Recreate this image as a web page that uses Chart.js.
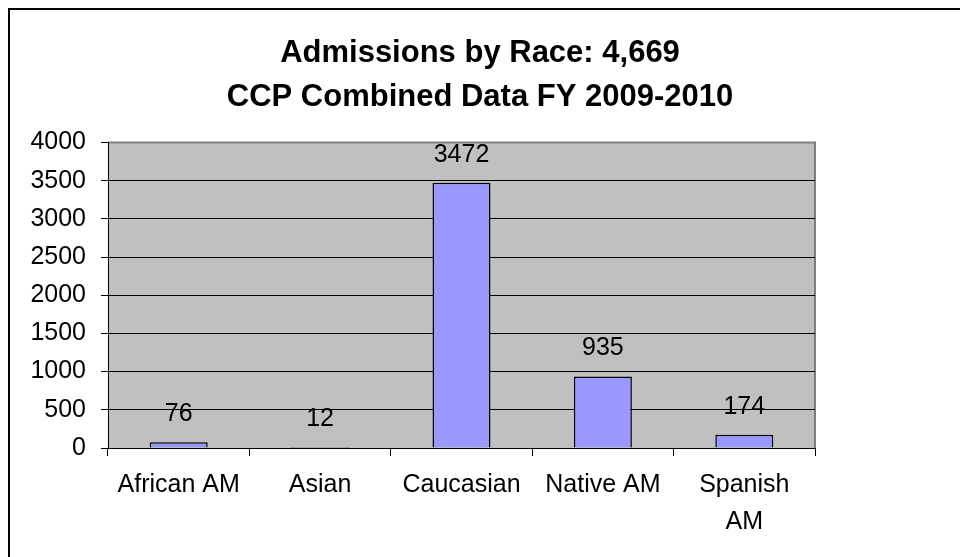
<!DOCTYPE html>
<html>
<head>
<meta charset="utf-8">
<title>Admissions by Race</title>
<script src="https://cdn.jsdelivr.net/npm/chart.js@4"></script>
<style>
    body { margin: 0; background: #fff; }
    canvas { display: block; }
</style>
</head>
<body>
<canvas id="raceChart" width="960" height="557"></canvas>
<script>
// Chart data
const categories = ['African AM', 'Asian', 'Caucasian', 'Native AM', ['Spanish', 'AM']];
const admissions = [76, 12, 3472, 935, 174];
const titleLines = ['Admissions by Race: 4,669', 'CCP Combined Data FY 2009-2010'];
const yMax = 4000;
const yStep = 500;

const FONT = "'Liberation Sans', Arial, sans-serif";

// Frame, grey plot area and its border
const plotBackground = {
    id: 'plotBackground',
    beforeDraw(chart) {
        const { ctx, chartArea } = chart;
        ctx.save();
        ctx.fillStyle = '#ffffff';
        ctx.fillRect(0, 0, chart.width, chart.height);
        ctx.strokeStyle = '#000000';
        ctx.lineWidth = 2;
        ctx.strokeRect(9, 9, chart.width + 20, chart.height + 20);
        ctx.fillStyle = '#c0c0c0';
        ctx.fillRect(chartArea.left, chartArea.top, chartArea.right - chartArea.left, chartArea.bottom - chartArea.top);
        ctx.strokeStyle = '#808080';
        ctx.lineWidth = 2;
        ctx.beginPath();
        ctx.moveTo(chartArea.left, chartArea.top);
        ctx.lineTo(chartArea.right, chartArea.top);
        ctx.lineTo(chartArea.right, chartArea.bottom);
        ctx.stroke();
        ctx.restore();
    }
};

// Value labels above the bars
const valueLabels = {
    id: 'valueLabels',
    afterDatasetsDraw(chart) {
        const { ctx } = chart;
        const meta = chart.getDatasetMeta(0);
        ctx.save();
        ctx.font = '25px ' + FONT;
        ctx.fillStyle = '#000';
        ctx.textAlign = 'center';
        ctx.textBaseline = 'middle';
        meta.data.forEach((bar, i) => {
            ctx.fillText(String(admissions[i]), bar.x, bar.y - 28);
        });
        ctx.restore();
    }
};

const ctx = document.getElementById('raceChart').getContext('2d');
new Chart(ctx, {
    type: 'bar',
    data: {
        labels: categories,
        datasets: [{
            data: admissions,
            backgroundColor: '#9999ff',
            borderColor: '#000000',
            borderWidth: 1.5,
            categoryPercentage: 1,
            barPercentage: 0.41
        }]
    },
    options: {
        responsive: false,
        animation: false,
        devicePixelRatio: 1,
        layout: {
            padding: 0
        },
        plugins: {
            legend: { display: false },
            tooltip: { enabled: false },
            title: {
                display: true,
                text: titleLines,
                color: '#000',
                font: { family: FONT, size: 31, weight: 'bold', lineHeight: 1.41 },
                padding: { top: 32, bottom: 23 }
            }
        },
        scales: {
            x: {
                afterFit(scale) { scale.height = 109; },
                grid: {
                    display: true,
                    offset: true,
                    drawOnChartArea: false,
                    drawTicks: true,
                    tickLength: 8,
                    color: '#000'
                },
                border: { color: '#000', width: 1 },
                ticks: {
                    color: '#000',
                    padding: 11,
                    maxRotation: 0,
                    autoSkip: false,
                    font: { family: FONT, size: 25, lineHeight: 1.48 }
                }
            },
            y: {
                min: 0,
                max: yMax,
                afterFit(scale) { scale.width = 108; },
                grid: {
                    color: (c) => (c.tick && c.tick.value === yMax ? '#808080' : '#000'),
                    tickColor: '#000',
                    tickLength: 7
                },
                border: { color: '#000', width: 1 },
                ticks: {
                    stepSize: yStep,
                    color: '#000',
                    padding: 15,
                    font: { family: FONT, size: 25 },
                    callback: (value) => String(value)
                }
            },
            // empty space to the right of the plot area
            spacer: {
                position: 'right',
                afterFit(scale) { scale.width = 145; },
                grid: { display: false },
                border: { display: false },
                ticks: { display: false }
            }
        }
    },
    plugins: [plotBackground, valueLabels]
});
</script>
</body>
</html>
